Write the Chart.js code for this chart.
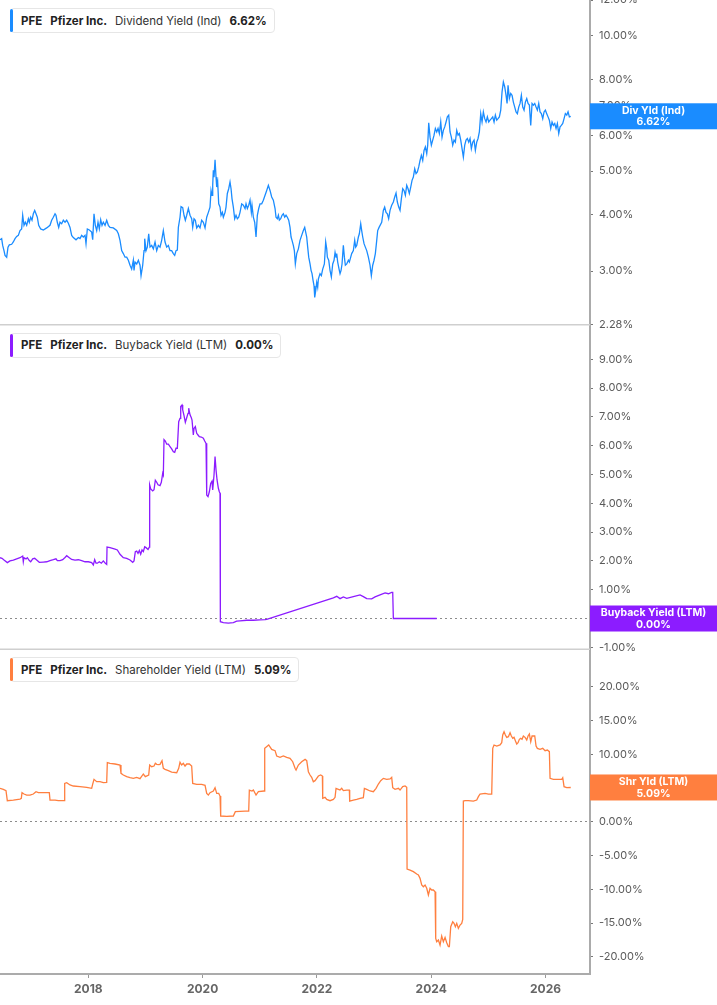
<!DOCTYPE html>
<html>
<head>
<meta charset="utf-8">
<script src="https://cdn.jsdelivr.net/npm/chart.js@4.4.1/dist/chart.umd.min.js"></script>
<style>
  html, body { margin: 0; padding: 0; background: #fff; }
  #wrap { position: relative; width: 717px; height: 1005px; }
  .legend {
    position: absolute; left: 10px; height: 25px; box-sizing: border-box;
    border: 1px solid #e6e6e6; border-radius: 4px; background: #fff;
    font: 11.5px Inter, "Noto Sans", sans-serif; color: #222;
    display: flex; align-items: center; padding: 0 7px 0 10px; white-space: nowrap;
  }
  .legend .bar { position: absolute; left: -1px; top: 0; bottom: 0; width: 3px; border-radius: 2px; }
  .legend b { font-weight: 700; margin-right: 8px; }
  .legend span.metric { margin-right: 8px; color: #333; }
  .legend b:last-child { margin-right: 0; }
</style>
</head>
<body>
<div id="wrap">
  <canvas id="chart" width="717" height="1005"></canvas>
</div>
<script>
// Dividend yield (indicated), log scale panel
const divYears = [
  2016.455, 2016.484, 2016.502, 2016.525, 2016.543, 2016.572, 2016.595, 2016.618, 2016.659, 2016.688,
  2016.718, 2016.747, 2016.776, 2016.805, 2016.834, 2016.852, 2016.875, 2016.898, 2016.922, 2016.951,
  2016.968, 2016.992, 2017.015, 2017.038, 2017.062, 2017.085, 2017.108, 2017.132, 2017.167, 2017.213,
  2017.272, 2017.330, 2017.359, 2017.388, 2017.418, 2017.435, 2017.458, 2017.482, 2017.505, 2017.534,
  2017.563, 2017.593, 2017.622, 2017.651, 2017.680, 2017.709, 2017.738, 2017.785, 2017.826, 2017.855,
  2017.884, 2017.913, 2017.943, 2017.960, 2017.983, 2018.018, 2018.059, 2018.077, 2018.100, 2018.123,
  2018.147, 2018.170, 2018.193, 2018.217, 2018.240, 2018.263, 2018.293, 2018.322, 2018.351, 2018.380,
  2018.438, 2018.497, 2018.526, 2018.555, 2018.584, 2018.613, 2018.643, 2018.672, 2018.701, 2018.730,
  2018.759, 2018.788, 2018.800, 2018.818, 2018.847, 2018.876, 2018.905, 2018.923, 2018.952, 2018.975,
  2018.987, 2019.010, 2019.033, 2019.057, 2019.080, 2019.109, 2019.138, 2019.168, 2019.197, 2019.226,
  2019.255, 2019.284, 2019.313, 2019.343, 2019.372, 2019.401, 2019.430, 2019.459, 2019.488, 2019.512,
  2019.535, 2019.558, 2019.576, 2019.605, 2019.623, 2019.652, 2019.675, 2019.698, 2019.722, 2019.751,
  2019.780, 2019.809, 2019.827, 2019.850, 2019.873, 2019.897, 2019.926, 2019.955, 2019.984, 2020.013,
  2020.043, 2020.072, 2020.101, 2020.130, 2020.148, 2020.165, 2020.177, 2020.188, 2020.200, 2020.218,
  2020.235, 2020.247, 2020.264, 2020.282, 2020.305, 2020.323, 2020.346, 2020.363, 2020.393, 2020.410,
  2020.433, 2020.457, 2020.480, 2020.498, 2020.515, 2020.538, 2020.562, 2020.585, 2020.608, 2020.632,
  2020.655, 2020.684, 2020.713, 2020.743, 2020.760, 2020.783, 2020.807, 2020.830, 2020.853, 2020.865,
  2020.888, 2020.912, 2020.935, 2020.958, 2020.982, 2021.005, 2021.034, 2021.063, 2021.093, 2021.122,
  2021.151, 2021.180, 2021.209, 2021.238, 2021.268, 2021.285, 2021.308, 2021.326, 2021.343, 2021.367,
  2021.390, 2021.413, 2021.437, 2021.460, 2021.483, 2021.507, 2021.530, 2021.548, 2021.565, 2021.588,
  2021.606, 2021.623, 2021.647, 2021.676, 2021.705, 2021.734, 2021.763, 2021.787, 2021.804, 2021.822,
  2021.839, 2021.857, 2021.880, 2021.898, 2021.915, 2021.933, 2021.950, 2021.962, 2021.979, 2021.997,
  2022.014, 2022.026, 2022.055, 2022.078, 2022.102, 2022.131, 2022.154, 2022.172, 2022.183, 2022.207,
  2022.230, 2022.253, 2022.277, 2022.300, 2022.318, 2022.335, 2022.347, 2022.364, 2022.388, 2022.405,
  2022.423, 2022.440, 2022.463, 2022.481, 2022.498, 2022.522, 2022.551, 2022.568, 2022.592, 2022.609,
  2022.638, 2022.662, 2022.679, 2022.697, 2022.726, 2022.743, 2022.767, 2022.784, 2022.802, 2022.825,
  2022.848, 2022.872, 2022.901, 2022.930, 2022.953, 2022.977, 2023.000, 2023.023, 2023.047, 2023.064,
  2023.088, 2023.134, 2023.163, 2023.186, 2023.210, 2023.233, 2023.256, 2023.280, 2023.309, 2023.338,
  2023.362, 2023.385, 2023.408, 2023.432, 2023.455, 2023.478, 2023.502, 2023.525, 2023.548, 2023.572,
  2023.595, 2023.618, 2023.642, 2023.665, 2023.688, 2023.712, 2023.735, 2023.758, 2023.782, 2023.805,
  2023.828, 2023.852, 2023.875, 2023.898, 2023.922, 2023.939, 2023.957, 2023.980, 2024.003, 2024.027,
  2024.050, 2024.073, 2024.097, 2024.120, 2024.143, 2024.167, 2024.190, 2024.213, 2024.237, 2024.260,
  2024.283, 2024.307, 2024.330, 2024.353, 2024.377, 2024.400, 2024.423, 2024.447, 2024.470, 2024.493,
  2024.517, 2024.540, 2024.563, 2024.587, 2024.610, 2024.633, 2024.657, 2024.680, 2024.703, 2024.727,
  2024.750, 2024.773, 2024.797, 2024.820, 2024.843, 2024.867, 2024.890, 2024.913, 2024.937, 2024.960,
  2024.983, 2025.007, 2025.030, 2025.053, 2025.077, 2025.100, 2025.123, 2025.147, 2025.170, 2025.193,
  2025.217, 2025.240, 2025.263, 2025.287, 2025.310, 2025.328, 2025.345, 2025.368, 2025.392, 2025.415,
  2025.438, 2025.462, 2025.485, 2025.508, 2025.532, 2025.555, 2025.578, 2025.602, 2025.625, 2025.648,
  2025.672, 2025.695, 2025.718, 2025.742, 2025.765, 2025.788, 2025.812, 2025.835, 2025.858, 2025.882,
  2025.905, 2025.928, 2025.952, 2025.975, 2025.998, 2026.022, 2026.045, 2026.068, 2026.092, 2026.115,
  2026.138, 2026.162, 2026.185, 2026.208, 2026.232, 2026.255, 2026.278, 2026.302, 2026.325, 2026.348,
  2026.372, 2026.395, 2026.418, 2026.442
];
const divValues = [
  3.52, 3.54, 3.42, 3.33, 3.25, 3.22, 3.39, 3.43, 3.44, 3.48,
  3.54, 3.58, 3.60, 3.69, 3.72, 3.99, 3.79, 3.85, 3.79, 3.92,
  3.85, 3.95, 3.89, 4.02, 4.09, 4.02, 3.95, 3.79, 3.72, 3.70,
  3.74, 3.79, 3.89, 3.95, 4.02, 3.99, 3.85, 3.75, 3.85, 3.82,
  3.89, 3.85, 3.89, 3.83, 3.75, 3.60, 3.56, 3.52, 3.56, 3.54,
  3.60, 3.57, 3.60, 3.45, 3.72, 3.70, 3.66, 3.52, 4.02, 3.79,
  3.69, 3.85, 3.72, 3.90, 3.79, 3.85, 3.79, 3.89, 3.79, 3.75,
  3.74, 3.69, 3.63, 3.51, 3.33, 3.28, 3.22, 3.22, 3.17, 3.09,
  3.03, 3.17, 3.01, 3.14, 3.11, 3.17, 3.09, 2.93, 3.09, 3.33,
  3.54, 3.33, 3.39, 3.63, 3.39, 3.42, 3.36, 3.48, 3.33, 3.42,
  3.39, 3.51, 3.69, 3.48, 3.39, 3.42, 3.33, 3.33, 3.28, 3.25,
  3.33, 3.34, 3.75, 3.95, 4.17, 4.15, 3.99, 3.89, 3.99, 4.13,
  3.99, 3.92, 3.75, 3.92, 3.89, 3.74, 3.79, 3.74, 3.89, 3.85,
  3.74, 3.95, 4.05, 4.16, 4.53, 4.42, 4.65, 5.02, 4.85, 5.30,
  4.85, 4.61, 4.73, 4.23, 4.16, 3.99, 4.05, 3.95, 4.05, 4.16,
  4.46, 4.57, 4.73, 4.57, 4.34, 4.16, 3.92, 3.99, 3.92, 3.95,
  4.05, 4.23, 4.20, 4.13, 4.23, 4.13, 4.20, 4.31, 4.05, 4.20,
  3.95, 3.85, 3.57, 3.99, 4.13, 4.23, 4.23, 4.31, 4.42, 4.53,
  4.65, 4.53, 4.38, 4.31, 4.13, 3.95, 3.92, 3.99, 3.89, 3.92,
  3.99, 4.02, 3.95, 3.99, 3.95, 3.89, 3.75, 3.57, 3.51, 3.42,
  3.33, 3.11, 3.28, 3.36, 3.51, 3.60, 3.69, 3.75, 3.66, 3.57,
  3.39, 3.22, 3.11, 3.01, 2.96, 2.86, 2.78, 2.62, 2.71, 2.83,
  2.76, 2.88, 2.96, 2.93, 3.03, 3.11, 3.48, 3.36, 3.22, 3.17,
  3.01, 2.91, 3.11, 3.17, 3.30, 3.22, 3.28, 3.14, 3.03, 2.96,
  3.01, 3.11, 3.42, 3.22, 3.09, 3.11, 3.17, 3.14, 3.22, 3.28,
  3.33, 3.51, 3.39, 3.42, 3.57, 3.63, 3.82, 3.69, 3.57, 3.45,
  3.39, 3.33, 3.22, 3.09, 2.93, 3.09, 3.17, 3.28, 3.51, 3.69,
  3.75, 3.85, 4.09, 4.16, 4.05, 4.02, 3.92, 4.09, 4.20, 4.27,
  4.38, 4.47, 4.27, 4.16, 4.09, 4.34, 4.57, 4.53, 4.42, 4.65,
  4.57, 4.46, 4.61, 4.77, 4.85, 5.06, 4.94, 4.98, 5.11, 5.28,
  5.42, 5.28, 5.56, 5.66, 5.47, 5.71, 6.40, 5.95, 5.71, 5.86,
  6.01, 6.22, 6.11, 6.22, 6.06, 6.43, 5.95, 6.16, 6.27, 6.43,
  6.60, 6.66, 6.11, 5.95, 5.71, 5.86, 5.80, 6.16, 6.01, 6.06,
  5.86, 5.61, 5.37, 5.71, 5.86, 5.91, 5.80, 5.91, 5.61, 5.80,
  5.86, 5.56, 5.80, 5.91, 6.11, 6.71, 6.43, 6.77, 6.54, 6.43,
  6.60, 6.43, 6.49, 6.54, 6.60, 6.43, 6.66, 6.49, 6.54, 6.60,
  6.83, 7.50, 7.89, 7.69, 7.37, 7.07, 7.76, 7.25, 7.44, 7.37,
  7.12, 6.94, 6.77, 6.71, 6.94, 7.07, 7.37, 6.94, 6.83, 7.12,
  7.25, 7.07, 7.01, 6.32, 7.07, 7.01, 7.07, 6.94, 6.83, 7.07,
  6.77, 6.71, 6.54, 6.77, 6.83, 6.71, 6.60, 6.49, 6.22, 6.43,
  6.32, 6.38, 6.22, 6.38, 6.06, 6.27, 6.32, 6.38, 6.54, 6.71,
  6.66, 6.77, 6.60, 6.62
];

// Buyback yield (LTM)
const bbYears = [
  2016.455, 2016.490, 2016.525, 2016.583, 2016.630, 2016.688, 2016.747, 2016.805, 2016.852, 2016.863,
  2016.875, 2016.910, 2016.933, 2016.968, 2016.992, 2017.027, 2017.062, 2017.097, 2017.143, 2017.213,
  2017.272, 2017.330, 2017.388, 2017.435, 2017.458, 2017.505, 2017.552, 2017.593, 2017.622, 2017.668,
  2017.709, 2017.768, 2017.826, 2017.884, 2017.943, 2018.001, 2018.059, 2018.088, 2018.112, 2018.135,
  2018.158, 2018.193, 2018.228, 2018.263, 2018.298, 2018.322, 2018.328, 2018.380, 2018.468, 2018.508,
  2018.555, 2018.613, 2018.672, 2018.730, 2018.777, 2018.800, 2018.823, 2018.847, 2018.870, 2018.893,
  2018.917, 2018.940, 2018.963, 2018.987, 2019.010, 2019.045, 2019.068, 2019.074, 2019.092, 2019.127,
  2019.150, 2019.173, 2019.197, 2019.220, 2019.255, 2019.278, 2019.302, 2019.313, 2019.325, 2019.348,
  2019.372, 2019.401, 2019.430, 2019.459, 2019.488, 2019.512, 2019.535, 2019.558, 2019.582, 2019.605,
  2019.617, 2019.640, 2019.652, 2019.675, 2019.698, 2019.722, 2019.745, 2019.757, 2019.780, 2019.803,
  2019.815, 2019.838, 2019.850, 2019.873, 2019.897, 2019.920, 2019.943, 2019.978, 2020.013, 2020.037,
  2020.060, 2020.072, 2020.095, 2020.118, 2020.142, 2020.165, 2020.177, 2020.200, 2020.218, 2020.235,
  2020.253, 2020.276, 2020.293, 2020.305, 2020.311, 2020.363, 2020.451, 2020.538, 2020.597, 2020.655,
  2020.772, 2020.888, 2021.005, 2021.093, 2021.122, 2022.288, 2022.347, 2022.405, 2022.463, 2022.522,
  2022.638, 2022.755, 2022.813, 2022.872, 2022.959, 2023.018, 2023.105, 2023.193, 2023.251, 2023.309,
  2023.327, 2023.338, 2023.455, 2024.097
];
const bbValues = [
  2.11, 2.09, 2.03, 1.94, 2.00, 2.03, 2.07, 2.11, 2.17, 1.97,
  2.11, 2.07, 2.11, 2.01, 1.97, 2.07, 2.09, 2.03, 1.95, 1.96,
  1.97, 2.01, 2.04, 2.07, 2.01, 2.01, 2.04, 2.12, 2.18, 2.11,
  2.05, 2.03, 2.04, 2.01, 1.97, 1.97, 1.94, 1.86, 2.04, 1.92,
  1.92, 1.97, 1.92, 2.00, 1.92, 1.88, 2.48, 2.46, 2.41, 2.38,
  2.23, 2.11, 2.09, 2.03, 1.95, 2.00, 2.32, 2.34, 2.26, 2.36,
  2.23, 2.38, 2.32, 2.49, 2.46, 2.40, 2.48, 4.64, 4.50, 4.43,
  4.47, 4.80, 4.73, 4.64, 4.61, 4.73, 5.04, 4.98, 6.21, 6.16,
  6.05, 6.05, 5.97, 5.89, 5.79, 5.77, 5.91, 5.91, 6.83, 6.95,
  7.36, 7.41, 7.24, 7.04, 6.81, 6.97, 7.12, 7.30, 7.07, 6.97,
  6.89, 6.37, 6.60, 6.66, 6.43, 6.37, 6.31, 6.30, 6.26, 6.16,
  6.08, 4.29, 4.23, 4.40, 4.69, 4.77, 4.46, 4.98, 5.62, 5.16,
  4.81, 4.52, 4.40, 4.35, -0.11, -0.14, -0.16, -0.14, -0.09, -0.08,
  -0.06, -0.06, -0.05, -0.04, -0.03, 0.72, 0.77, 0.69, 0.75, 0.70,
  0.76, 0.82, 0.76, 0.69, 0.68, 0.75, 0.82, 0.89, 0.86, 0.91,
  0.91, 0.00, 0.00, 0.00
];

// Shareholder yield (LTM)
const shYears = [
  2016.455, 2016.513, 2016.560, 2016.583, 2016.688, 2016.805, 2016.828, 2016.840, 2016.875, 2016.922,
  2016.980, 2017.038, 2017.085, 2017.126, 2017.213, 2017.318, 2017.330, 2017.418, 2017.476, 2017.575,
  2017.587, 2017.622, 2017.680, 2017.738, 2017.855, 2017.972, 2018.059, 2018.077, 2018.100, 2018.147,
  2018.205, 2018.263, 2018.322, 2018.333, 2018.380, 2018.468, 2018.555, 2018.572, 2018.613, 2018.672,
  2018.730, 2018.788, 2018.847, 2018.905, 2018.963, 2018.998, 2019.057, 2019.074, 2019.109, 2019.150,
  2019.173, 2019.197, 2019.232, 2019.255, 2019.290, 2019.313, 2019.343, 2019.401, 2019.459, 2019.547,
  2019.582, 2019.605, 2019.634, 2019.663, 2019.693, 2019.722, 2019.768, 2019.809, 2019.827, 2019.897,
  2019.984, 2020.043, 2020.072, 2020.101, 2020.130, 2020.188, 2020.218, 2020.247, 2020.282, 2020.305,
  2020.317, 2020.422, 2020.538, 2020.573, 2020.655, 2020.743, 2020.807, 2020.818, 2020.865, 2020.888,
  2020.935, 2020.976, 2021.075, 2021.087, 2021.157, 2021.209, 2021.268, 2021.297, 2021.355, 2021.413,
  2021.472, 2021.530, 2021.577, 2021.618, 2021.635, 2021.676, 2021.734, 2021.793, 2021.822, 2021.851,
  2021.880, 2021.909, 2021.938, 2021.968, 2021.997, 2022.026, 2022.067, 2022.096, 2022.102, 2022.143,
  2022.172, 2022.230, 2022.288, 2022.318, 2022.335, 2022.376, 2022.405, 2022.434, 2022.463, 2022.522,
  2022.568, 2022.574, 2022.638, 2022.697, 2022.755, 2022.813, 2022.831, 2022.872, 2022.930, 2022.988,
  2023.035, 2023.076, 2023.117, 2023.163, 2023.222, 2023.280, 2023.309, 2023.327, 2023.368, 2023.426,
  2023.455, 2023.502, 2023.543, 2023.572, 2023.578, 2023.630, 2023.688, 2023.747, 2023.776, 2023.805,
  2023.834, 2023.863, 2023.893, 2023.922, 2023.951, 2023.980, 2024.009, 2024.038, 2024.068, 2024.079,
  2024.097, 2024.126, 2024.155, 2024.184, 2024.213, 2024.243, 2024.272, 2024.301, 2024.318, 2024.342,
  2024.377, 2024.400, 2024.423, 2024.447, 2024.476, 2024.505, 2024.534, 2024.552, 2024.563, 2024.593,
  2024.651, 2024.738, 2024.797, 2024.826, 2024.855, 2024.943, 2025.001, 2025.059, 2025.077, 2025.100,
  2025.147, 2025.205, 2025.234, 2025.252, 2025.275, 2025.298, 2025.322, 2025.351, 2025.380, 2025.403,
  2025.427, 2025.450, 2025.473, 2025.497, 2025.520, 2025.543, 2025.567, 2025.590, 2025.613, 2025.643,
  2025.672, 2025.695, 2025.718, 2025.742, 2025.765, 2025.812, 2025.835, 2025.858, 2025.905, 2025.952,
  2025.993, 2026.033, 2026.068, 2026.080, 2026.138, 2026.197, 2026.284, 2026.302, 2026.325, 2026.372,
  2026.442
];
const shValues = [
  4.96, 4.81, 4.62, 3.13, 3.23, 3.38, 3.48, 4.32, 4.12, 3.97,
  3.97, 4.12, 4.47, 4.32, 4.32, 4.32, 3.23, 3.23, 3.13, 3.13,
  5.70, 5.80, 5.46, 5.31, 5.21, 5.11, 4.96, 5.60, 6.30, 5.95,
  5.95, 5.80, 5.85, 8.77, 8.67, 8.57, 8.42, 7.19, 6.94, 6.69,
  6.54, 6.44, 6.59, 6.39, 7.09, 6.69, 6.94, 8.42, 8.17, 8.27,
  8.67, 8.52, 8.47, 8.52, 9.06, 7.93, 7.78, 7.58, 7.38, 7.28,
  7.93, 8.82, 8.42, 8.67, 8.27, 8.57, 8.57, 8.27, 5.70, 5.56,
  5.56, 5.41, 4.22, 3.97, 4.32, 4.57, 5.06, 4.22, 4.22, 3.82,
  0.86, 0.81, 0.86, 1.50, 1.55, 1.60, 1.60, 4.71, 4.57, 4.71,
  3.97, 4.47, 4.57, 10.89, 11.39, 10.74, 10.55, 9.76, 9.56, 9.76,
  9.56, 9.41, 8.91, 7.93, 7.68, 8.42, 8.91, 9.26, 9.06, 7.43,
  6.94, 6.59, 5.95, 6.10, 6.44, 6.79, 6.94, 6.79, 3.48, 3.63,
  3.33, 3.13, 3.33, 3.63, 4.96, 4.81, 4.71, 4.96, 4.62, 4.71,
  4.71, 3.08, 3.23, 3.33, 3.48, 3.58, 4.96, 4.81, 4.57, 4.47,
  4.96, 5.60, 6.10, 6.44, 6.30, 6.35, 6.59, 5.06, 4.81, 4.96,
  4.71, 5.21, 5.31, 5.11, -7.00, -7.15, -7.39, -7.74, -7.89, -8.38,
  -9.37, -9.62, -9.37, -9.86, -10.85, -9.86, -10.11, -10.11, -10.36, -17.28,
  -17.77, -17.52, -18.27, -16.93, -17.77, -17.13, -17.92, -18.51, -18.51, -15.55,
  -14.81, -15.05, -15.55, -15.05, -15.79, -15.30, -15.05, -14.46, 3.08, 3.13,
  3.13, 3.08, 3.23, 3.73, 4.12, 4.22, 4.12, 4.12, 10.89, 11.39,
  11.24, 11.39, 11.73, 12.87, 13.36, 12.87, 12.52, 12.62, 13.21, 12.72,
  12.37, 12.52, 12.03, 11.53, 11.73, 12.23, 12.37, 12.23, 12.72, 12.52,
  12.13, 12.72, 13.02, 11.88, 12.72, 12.72, 11.24, 10.89, 10.74, 10.89,
  10.55, 10.64, 10.40, 6.44, 6.30, 6.30, 6.30, 6.54, 5.21, 5.06,
  5.09
];

// Axis ranges and tick labels
const xMin = 2016.455;
const xMax = 2026.779;
const xTicks = [2018, 2020, 2022, 2024, 2026];
const divTicks = [2.28, 3, 4, 5, 6, 7, 8, 10, 12];
const bbTicks = [-1, 0, 1, 2, 3, 4, 5, 6, 7, 8, 9];
const shTicks = [-20, -15, -10, -5, 0, 5, 10, 15, 20];

const panels = [
  { axis: 'yDiv', type: 'logarithmic', min: 2.28, max: 12, ticks: divTicks,
    years: divYears, values: divValues, color: '#1a8cff',
    metric: 'Dividend Yield (Ind)', tag: 'Div Yld (Ind)' },
  { axis: 'yBuy', type: 'linear', min: -1.07, max: 10.2, ticks: bbTicks,
    years: bbYears, values: bbValues, color: '#8c1cff',
    metric: 'Buyback Yield (LTM)', tag: 'Buyback Yield (LTM)' },
  { axis: 'yShr', type: 'linear', min: -22.56, max: 25.57, ticks: shTicks,
    years: shYears, values: shValues, color: '#ff7f3f',
    metric: 'Shareholder Yield (LTM)', tag: 'Shr Yld (LTM)' }
];

function lastOf(arr) {
    return arr[arr.length - 1];
}

function yAxis(p) {
    return {
        type: p.type,
        position: 'right',
        stack: 'panels',
        stackWeight: 1,
        min: p.min,
        max: p.max,
        afterBuildTicks: s => { s.ticks = p.ticks.map(v => ({ value: v })); },
        afterFit: s => { s.width = 127; s.paddingTop = 0; s.paddingBottom = 0; },
        ticks: {
            autoSkip: false,
            color: '#5a5a5a',
            padding: 6,
            font: { family: 'Inter', size: 11 },
            callback: v => Number(v).toFixed(2) + '%'
        },
        grid: {
            color: c => (c.tick && c.tick.value === 0) ? '#8c8c8c' : 'rgba(0,0,0,0)',
            lineWidth: 1,
            drawTicks: true,
            tickLength: 3,
            tickColor: '#777',
            tickWidth: 1
        },
        border: { color: '#ababab', width: 2, dash: [2, 3] }
    };
}

// Panel separators and the value tags on the right axis
const panelDecor = {
    id: 'panelDecor',
    beforeDatasetsDraw(chart) {
        const { ctx, chartArea } = chart;
        ctx.save();
        ctx.strokeStyle = '#cfcfcf';
        ctx.lineWidth = 1.5;
        ['yDiv', 'yBuy'].forEach(id => {
            const y = chart.scales[id].bottom;
            ctx.beginPath();
            ctx.moveTo(chartArea.left, y);
            ctx.lineTo(chartArea.right, y);
            ctx.stroke();
        });
        ctx.restore();
    },
    afterDraw(chart) {
        const { ctx, chartArea } = chart;
        ctx.save();
        panels.forEach(p => {
            const last = lastOf(p.values);
            const y = chart.scales[p.axis].getPixelForValue(last);
            const left = chartArea.right;
            const w = chart.width - left;
            ctx.fillStyle = p.color;
            ctx.fillRect(left, y - 13, w, 26);
            ctx.fillStyle = '#fff';
            ctx.font = 'bold 10.5px Inter';
            ctx.textAlign = 'center';
            ctx.textBaseline = 'middle';
            ctx.fillText(p.tag, left + w / 2, y - 5.5);
            ctx.fillText(last.toFixed(2) + '%', left + w / 2, y + 6);
        });
        ctx.restore();
    }
};

const scales = {
    x: {
        type: 'linear',
        min: xMin,
        max: xMax,
        afterBuildTicks: s => { s.ticks = xTicks.map(v => ({ value: v })); },
        afterFit: s => { s.height = 31; s.paddingLeft = 0; s.paddingRight = 0; },
        ticks: {
            autoSkip: false,
            maxRotation: 0,
            color: '#666',
            padding: 4,
            font: { family: 'Inter', size: 12, weight: 'bold' },
            callback: v => String(v)
        },
        grid: { drawOnChartArea: false, drawTicks: true, tickLength: 4, tickColor: '#999' },
        border: { color: '#ababab', width: 2 }
    }
};
panels.forEach(p => { scales[p.axis] = yAxis(p); });

const chart = new Chart(document.getElementById('chart'), {
    type: 'line',
    data: {
        datasets: panels.map(p => ({
            label: p.metric,
            data: p.years.map((x, i) => ({ x: x, y: p.values[i] })),
            yAxisID: p.axis,
            borderColor: p.color,
            borderWidth: 1.3,
            pointRadius: 0,
            tension: 0
        }))
    },
    options: {
        responsive: false,
        animation: false,
        devicePixelRatio: 1,
        layout: { padding: 0 },
        plugins: { legend: { display: false }, tooltip: { enabled: false } },
        scales: scales
    },
    plugins: [panelDecor]
});

// Legend chips at the top left of every panel
const wrap = document.getElementById('wrap');
panels.forEach(p => {
    const chip = document.createElement('div');
    chip.className = 'legend';
    chip.style.top = (chart.scales[p.axis].top + 8) + 'px';
    chip.innerHTML = `
        <span class="bar" style="background:${p.color}"></span>
        <b>PFE</b><b>Pfizer Inc.</b><span class="metric">${p.metric}</span><b>${lastOf(p.values).toFixed(2)}%</b>
    `;
    wrap.appendChild(chip);
});
</script>
</body>
</html>
